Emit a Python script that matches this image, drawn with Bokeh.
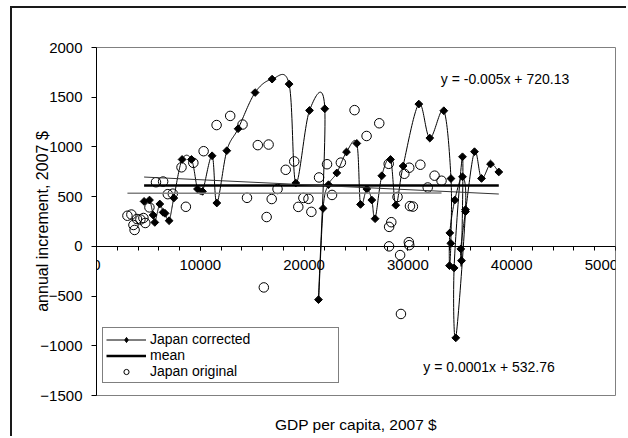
import numpy as np
from bokeh.plotting import figure
from bokeh.models import (Range1d, LinearAxis, SingleIntervalTicker, FixedTicker,
                          Legend, LegendItem, Label)
from bokeh.embed import file_html
from bokeh.resources import INLINE

FONT = "Liberation Sans"

# Japan corrected: GDP per capita vs. annual increment (2007 $), in year order
corr_x = [4586, 5106, 5453, 5617, 6098, 6416, 6609, 6994, 7447, 8247, 9152, 9730,
          10212, 11137, 11590, 12553, 13642, 15280, 16917, 18555, 19200, 20520,
          21994, 21387, 21830, 22351, 23150, 24085, 25077, 25434, 26040, 26522,
          26840, 27486, 28324, 28834, 29538, 31050, 32110, 33459, 34150, 34133,
          34008, 34037, 34518, 35260, 35549, 34615, 34451, 35260, 35164, 35096,
          35549, 36416, 37091, 37958, 38757]
corr_y = [452, 466, 315, 241, 426, 342, 332, 258, 486, 874, 874, 577,
          553, 911, 436, 962, 1183, 1547, 1682, 1632, 637, 1367,
          1384, -536, 382, 620, 738, 949, 1035, 422, 577, 466,
          278, 710, 874, 414, 808, 1431, 1089, 1364, 682, 30,
          -194, 135, 466, 700, 369, -920, -217, 901, -144, -26,
          349, 952, 683, 828, 748]

# Japan original series
orig_x = [2980, 3360, 3560, 3670, 3900, 4230, 4520, 4700, 5100, 5730, 6420, 6870,
          7350, 8190, 8610, 9330, 10320, 11570, 12880, 14070, 14500, 15540, 16120,
          16390, 16580, 16880, 17440, 18230, 19050, 19440, 19930, 20420, 20700,
          21440, 22210, 22690, 23540, 24860, 26020, 27240, 28150, 28185, 28190,
          28400, 29000, 29250, 29330, 29660, 30130, 30200, 30480, 30090, 30130,
          31200, 31910, 32570, 33240]
orig_y = [308, 320, 215, 165, 275, 270, 285, 235, 392, 645, 652, 525,
          530, 795, 398, 840, 957, 1220, 1312, 1225, 488, 1018, -413,
          295, 1024, 476, 577, 770, 854, 397, 487, 478, 347,
          693, 826, 517, 842, 1370, 1110, 1238, 830, 0, 196,
          243, 497, -88, -680, 730, 791, 405, 400, 42, 12,
          821, 592, 711, 660]

# linear trend fits as printed on the chart
corr_slope, corr_intercept = -0.005, 720.13
orig_slope, orig_intercept = 0.0001, 532.76

x_ticks_interval = 10000
y_ticks_interval = 500


def smooth_curve(xs, ys, n=24):
    """Catmull-Rom style cubic Bezier through the points (spreadsheet 'smoothed line')."""
    pts = np.column_stack([xs, ys]).astype(float)
    out = []
    t = np.linspace(0, 1, n)[:, None]
    for i in range(len(pts) - 1):
        p0 = pts[i - 1] if i > 0 else pts[i]
        p1, p2 = pts[i], pts[i + 1]
        p3 = pts[i + 2] if i + 2 < len(pts) else pts[i + 1]
        c1 = p1 + (p2 - p0) / 6.0
        c2 = p2 - (p3 - p1) / 6.0
        seg = ((1 - t) ** 3) * p1 + 3 * ((1 - t) ** 2) * t * c1 + 3 * (1 - t) * (t ** 2) * c2 + (t ** 3) * p2
        out.append(seg if i == 0 else seg[1:])
    curve = np.vstack(out)
    return curve[:, 0], curve[:, 1]


# the chart area sits inside a page border drawn on the left and top edges
p = figure(width=616, height=430, output_backend="svg", toolbar_location=None,
           x_range=Range1d(0, 50000), y_range=Range1d(-1500, 2000),
           x_axis_type=None, y_axis_type=None,
           min_border_left=84, min_border_right=13, min_border_top=39, min_border_bottom=43,
           styles={"margin-left": "10px", "margin-top": "6px",
                   "border-left": "2px solid #1a1a1a", "border-top": "2px solid #1a1a1a"})
p.background_fill_color = "white"
p.border_fill_color = "white"
p.outline_line_color = "#808080"
p.outline_line_width = 1

# y axis
yaxis = LinearAxis(ticker=SingleIntervalTicker(interval=y_ticks_interval, num_minor_ticks=0),
                   axis_label="annual increment, 2007 $")
yaxis.axis_line_color = "black"
yaxis.major_tick_line_color = "black"
yaxis.major_tick_out = 5
yaxis.major_tick_in = 0
yaxis.minor_tick_line_color = None
yaxis.major_label_standoff = 9
yaxis.major_label_text_font = FONT
yaxis.major_label_text_font_size = "15px"
yaxis.major_label_text_color = "black"
yaxis.axis_label_text_font = FONT
yaxis.axis_label_text_font_size = "16px"
yaxis.axis_label_text_font_style = "normal"
yaxis.axis_label_text_color = "black"
yaxis.axis_label_standoff = -14
p.add_layout(yaxis, "left")

# x axis drawn through y = 0
xaxis = LinearAxis(ticker=SingleIntervalTicker(interval=x_ticks_interval, num_minor_ticks=5),
                   fixed_location=0)
xaxis.axis_line_color = "black"
xaxis.major_tick_line_color = "black"
xaxis.minor_tick_line_color = "black"
xaxis.major_tick_out = 4
xaxis.major_tick_in = 0
xaxis.minor_tick_out = 4
xaxis.minor_tick_in = 0
xaxis.major_label_standoff = 10
xaxis.major_label_text_font = FONT
xaxis.major_label_text_font_size = "15px"
xaxis.major_label_text_color = "black"
p.add_layout(xaxis, "below")

# x axis title at the bottom of the chart
xtitle = LinearAxis(ticker=FixedTicker(ticks=[]), axis_label="GDP per capita, 2007 $")
xtitle.axis_line_color = None
xtitle.major_tick_line_color = None
xtitle.minor_tick_line_color = None
xtitle.major_tick_out = 0
xtitle.minor_tick_out = 0
xtitle.major_label_standoff = 0
xtitle.axis_label_standoff = 20
xtitle.axis_label_text_font = FONT
xtitle.axis_label_text_font_size = "15.5px"
xtitle.axis_label_text_font_style = "normal"
xtitle.axis_label_text_color = "black"
p.add_layout(xtitle, "below")

# Japan original: open circles
r_orig = p.scatter(orig_x, orig_y, marker="circle", size=9.5, fill_color=None,
                   line_color="black", line_width=1)

# Japan corrected: smoothed line with diamond markers
sx, sy = smooth_curve(corr_x, corr_y)
r_corr_line = p.line(sx, sy, line_color="black", line_width=1)
r_corr_pts = p.scatter(corr_x, corr_y, marker="square", angle=np.pi / 4, size=5.5,
                       fill_color="black", line_color="black")
# same markers as an upright diamond, used only for the legend swatch
r_corr_key = p.scatter(corr_x, corr_y, marker="diamond", size=9,
                       fill_color="black", line_color="black", visible=False)

# mean of the corrected series
mean_val = float(np.mean(corr_y))
r_mean = p.line([min(corr_x), max(corr_x)], [mean_val, mean_val],
                line_color="black", line_width=2.5)

# linear trends
cx = np.array([min(corr_x), max(corr_x)], dtype=float)
p.line(cx, corr_slope * cx + corr_intercept, line_color="#333333", line_width=1)
ox = np.array([min(orig_x), max(orig_x)], dtype=float)
p.line(ox, orig_slope * ox + orig_intercept, line_color="#808080", line_width=1.5)

p.add_layout(Label(x=33170, y=1682, text=f"y = {corr_slope}x + {corr_intercept}",
                   text_font=FONT, text_font_size="14px", text_baseline="middle",
                   text_color="black"))
p.add_layout(Label(x=31480, y=-1209, text=f"y = {orig_slope}x + {orig_intercept}",
                   text_font=FONT, text_font_size="14px", text_baseline="middle",
                   text_color="black"))

legend = Legend(items=[
    LegendItem(label="Japan corrected", renderers=[r_corr_line, r_corr_key]),
    LegendItem(label="mean", renderers=[r_mean]),
    LegendItem(label="Japan original", renderers=[r_orig]),
], location=(6, 12))
legend.border_line_color = "black"
legend.border_line_width = 1
legend.background_fill_color = "white"
legend.background_fill_alpha = 1
legend.padding = 3
legend.spacing = -5
legend.margin = 0
legend.glyph_width = 40
legend.glyph_height = 13
legend.label_height = 13
legend.label_width = 185
legend.label_standoff = 4
legend.label_text_font = FONT
legend.label_text_font_size = "14px"
legend.label_text_color = "black"
p.add_layout(legend)

open("out.html", "w").write(file_html(p, INLINE))
